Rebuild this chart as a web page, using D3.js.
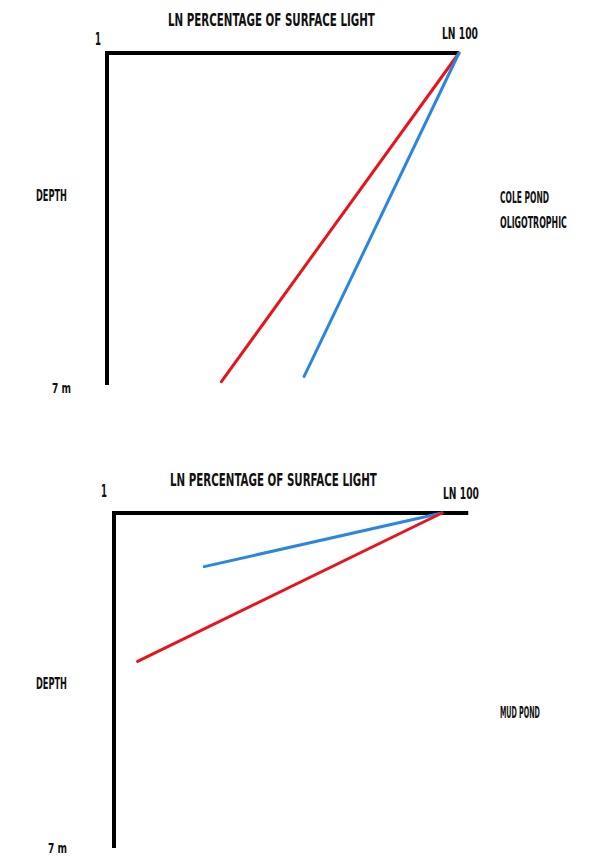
<!DOCTYPE html>
<html><head><meta charset="utf-8">
<script src="https://cdn.jsdelivr.net/npm/d3@7"></script>
<style>body{margin:0;background:#fff}svg{display:block}
text{font-family:"DejaVu Sans Condensed","Liberation Sans Narrow",sans-serif;font-weight:bold;fill:#111}</style>
</head><body><svg id="c" width="597" height="857"></svg>
<script>
// Data
const panels = ["COLE POND", "MUD POND"];
const subtitles = ["OLIGOTROPHIC", ""];
const xTickLabels = ["1", "LN 100"];
const yTickLabels = ["1", "7 m"];
const xTitle = "LN  PERCENTAGE OF SURFACE LIGHT";
const yTitle = "DEPTH";
// each line: [light% at surface, depth 0] -> [light%, depth]
const coleRed  = [{x:100, d:0}, {x:32.5, d:6.93}];
const coleBlue = [{x:100, d:0}, {x:56, d:6.82}];
const mudBlue  = [{x:100, d:0}, {x:27.5, d:1.12}];
const mudRed   = [{x:100, d:0}, {x:7.2, d:3.1}];

const svg = d3.select("#c");
const RED = "#e8141c", BLUE = "#2a86df";

function label(g, s, px, py, size, len){
  const el = g.append("text").attr("font-size", size).attr("x", 0).attr("y", 0).text(s);
  const w = el.node().getComputedTextLength();
  const k = len / w;
  el.attr("transform", `translate(${px},${py}) scale(${k},1.3)`);
  return el;
}

function panel(cfg){
  const x = d3.scaleLinear().domain([0,100]).range([cfg.x0, cfg.x100]);
  const y = d3.scaleLinear().domain([0,7]).range([cfg.y0, cfg.y7]);
  const g = svg.append("g");
  g.append("line").attr("x1", cfg.x0).attr("x2", x(cfg.xEnd)).attr("y1", cfg.y0).attr("y2", cfg.y0)
    .attr("stroke","#000").attr("stroke-width",4);
  g.append("line").attr("x1", cfg.x0).attr("x2", cfg.x0).attr("y1", cfg.y0-2).attr("y2", y(7))
    .attr("stroke","#000").attr("stroke-width",4);
  const line = d3.line().x(d=>x(d.x)).y(d=>y(d.d));
  cfg.lines.forEach(l=>{
    g.append("path").attr("d", line(l.data)).attr("fill","none")
      .attr("stroke", l.color).attr("stroke-width",3).attr("stroke-linecap","round");
  });
  label(g, xTitle, cfg.titleX, cfg.titleY, 13, 207);
  label(g, xTickLabels[0], cfg.oneX, cfg.oneY, 13, 6);
  label(g, xTickLabels[1], cfg.lnX, cfg.lnY, 12, 36);
  label(g, yTickLabels[1], cfg.sevenX, cfg.sevenY, 11, 19);
  label(g, yTitle, 36, cfg.depthY, 12, 31);
  label(g, cfg.name, 500, cfg.nameY, 12, cfg.nameLen);
  if (cfg.sub) label(g, cfg.sub, 500, cfg.nameY+25, 12, 67);
}

panel({x0:107, x100:459, xEnd:100, y0:53, y7:385,
  lines:[{data:coleRed,color:RED},{data:coleBlue,color:BLUE}],
  titleX:168, titleY:26, oneX:95, oneY:45, lnX:442, lnY:39, sevenX:52, sevenY:393,
  depthY:201, name:panels[0], nameY:203, nameLen:49, sub:subtitles[0]});

panel({x0:114, x100:442, xEnd:108, y0:513, y7:848,
  lines:[{data:mudBlue,color:BLUE},{data:mudRed,color:RED}],
  titleX:170, titleY:486, oneX:101, oneY:497, lnX:443, lnY:499, sevenX:48, sevenY:853,
  depthY:689, name:panels[1], nameY:718, nameLen:40, sub:subtitles[1]});
</script></body></html>
